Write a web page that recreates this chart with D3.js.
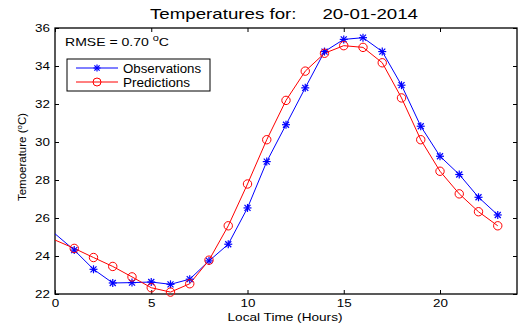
<!doctype html>
<html>
<head>
<meta charset="utf-8">
<script src="https://d3js.org/d3.v7.min.js"></script>
<style>
  body { margin: 0; background: #fff; }
  text { font-family: "Liberation Sans", Arial, sans-serif; }
</style>
</head>
<body>
<div id="chart"></div>
<script>
// hours of the day
const hours = d3.range(0, 24);
// observed temperature (°C)
const observations = [25.17, 24.31, 23.30, 22.58, 22.60, 22.63, 22.51, 22.78, 23.74, 24.62,
  26.53, 28.97, 30.91, 32.85, 34.76, 35.40, 35.49, 34.76, 32.99, 30.83,
  29.25, 28.29, 27.09, 26.16];
// predicted temperature (°C)
const predictions = [24.84, 24.40, 23.92, 23.45, 22.90, 22.33, 22.10, 22.54, 23.78, 25.59,
  27.79, 30.12, 32.19, 33.73, 34.67, 35.07, 34.98, 34.17, 32.32, 30.12,
  28.46, 27.27, 26.33, 25.59];
const xTicks = [0, 5, 10, 15, 20];
const yTicks = [22, 24, 26, 28, 30, 32, 34, 36];

const W = 518, H = 327;
const margin = {top: 28, right: 1, bottom: 33, left: 55},
      width = W - margin.left - margin.right,
      height = H - margin.top - margin.bottom;
const sx = 1.22; // the original figure's text is a bit wide

const svg = d3.select("#chart").append("svg")
  .attr("width", W).attr("height", H);
const g = svg.append("g")
  .attr("transform", `translate(${margin.left},${margin.top})`);

const x = d3.scaleLinear().domain([0, 24]).range([0, width]);
const y = d3.scaleLinear().domain([22, 36]).range([height, 0]);

// axes, MATLAB style: ticks pointing inward on all four sides
const tl = 4;
const xb = g.append("g").attr("transform", `translate(0,${height})`)
  .call(d3.axisBottom(x).tickValues(xTicks).tickSize(-tl).tickPadding(5))
  .call(a => a.select(".domain").remove());
g.append("g")
  .call(d3.axisTop(x).tickValues(xTicks).tickSize(-tl).tickFormat(""))
  .call(a => a.select(".domain").remove());
const yl_ = g.append("g")
  .call(d3.axisLeft(y).tickValues(yTicks).tickSize(-tl).tickPadding(5))
  .call(a => a.select(".domain").remove());
g.append("g").attr("transform", `translate(${width},0)`)
  .call(d3.axisRight(y).tickValues(yTicks).tickSize(-tl).tickFormat(""))
  .call(a => a.select(".domain").remove());
g.selectAll(".tick text").style("font-size", "11px").attr("fill", "#000")
  .style("font-family", "'Liberation Sans', Arial, sans-serif")
  .attr("transform", `scale(${sx},1)`);
yl_.selectAll(".tick text").attr("x", -5 / sx);
g.selectAll(".tick line").attr("stroke", "#000");

g.append("rect").attr("width", width).attr("height", height)
  .attr("fill", "none").attr("stroke", "#000").attr("stroke-width", 1.3);

const plot = g.append("g");
const line = d3.line().x((d, i) => x(hours[i])).y(d => y(d));

plot.append("path").datum(observations).attr("d", line)
  .attr("fill", "none").attr("stroke", "#0000ff").attr("stroke-width", 1);
plot.append("path").datum(predictions).attr("d", line)
  .attr("fill", "none").attr("stroke", "#ff0000").attr("stroke-width", 1);

function star(sel, cx, cy, r) {
  const s = sel.append("g").attr("transform", `translate(${cx},${cy})`)
    .attr("stroke", "#0000ff").attr("stroke-width", 1.2);
  s.append("line").attr("x1", -r).attr("x2", r).attr("y1", 0).attr("y2", 0);
  s.append("line").attr("x1", 0).attr("x2", 0).attr("y1", -r).attr("y2", r);
  const k = r * 0.75;
  s.append("line").attr("x1", -k).attr("x2", k).attr("y1", -k).attr("y2", k);
  s.append("line").attr("x1", -k).attr("x2", k).attr("y1", k).attr("y2", -k);
}

observations.forEach((v, i) => {
  if (i > 0) star(plot, x(hours[i]), y(v), 4);
});
plot.selectAll("circle.pred").data(predictions.slice(1)).join("circle")
  .attr("class", "pred")
  .attr("cx", (d, i) => x(hours[i + 1]))
  .attr("cy", d => y(d))
  .attr("r", 4.2)
  .attr("fill", "none").attr("stroke", "#ff0000").attr("stroke-width", 1);

// RMSE annotation
const rm = g.append("text").attr("x", 10).attr("y", 18)
  .style("font-size", "11.5px");
rm.append("tspan").text("RMSE = 0.70 ");
rm.append("tspan").attr("dy", -5).style("font-size", "9px").text("o");
rm.append("tspan").attr("dy", 5).text("C");
rm.attr("textLength", 104).attr("lengthAdjust", "spacingAndGlyphs");

// legend
const lg = g.append("g").attr("transform", "translate(12,31)");
lg.append("rect").attr("width", 143).attr("height", 32)
  .attr("fill", "#fff").attr("stroke", "#000").attr("stroke-width", 1);
lg.append("line").attr("x1", 9).attr("x2", 51).attr("y1", 9).attr("y2", 9)
  .attr("stroke", "#0000ff");
star(lg, 30, 9, 3.5);
lg.append("line").attr("x1", 9).attr("x2", 51).attr("y1", 23).attr("y2", 23)
  .attr("stroke", "#ff0000");
lg.append("circle").attr("cx", 30).attr("cy", 23).attr("r", 4)
  .attr("fill", "none").attr("stroke", "#ff0000");
lg.append("text").attr("x", 56).attr("y", 13.5).style("font-size", "12px")
  .attr("textLength", 78).attr("lengthAdjust", "spacingAndGlyphs").text("Observations");
lg.append("text").attr("x", 56).attr("y", 27.5).style("font-size", "12px")
  .attr("textLength", 67).attr("lengthAdjust", "spacingAndGlyphs").text("Predictions");

// title
svg.append("text").attr("x", margin.left + width / 2 - 2).attr("y", 19)
  .attr("text-anchor", "middle").style("font-size", "15px")
  .attr("xml:space", "preserve")
  .attr("textLength", 268).attr("lengthAdjust", "spacingAndGlyphs")
  .text("Temperatures for:     20-01-2014");

// axis labels
svg.append("text").attr("x", margin.left + width / 2 - 1).attr("y", 320.5)
  .attr("text-anchor", "middle").style("font-size", "11.5px")
  .attr("textLength", 115).attr("lengthAdjust", "spacingAndGlyphs")
  .text("Local Time (Hours)");
const yl = svg.append("text")
  .attr("transform", `translate(26,${margin.top + height / 2 - 4}) rotate(-90)`)
  .attr("text-anchor", "middle").style("font-size", "11.5px");
yl.append("tspan").text("Temoerature (");
yl.append("tspan").attr("dy", -4).style("font-size", "8px").text("o");
yl.append("tspan").attr("dy", 4).text("C)");
</script>
</body>
</html>
